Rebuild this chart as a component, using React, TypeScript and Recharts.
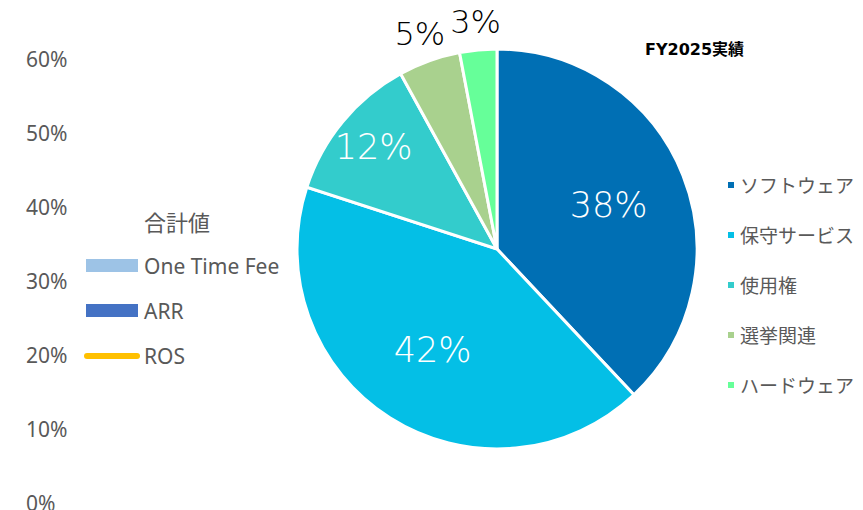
import React from 'react'
import { PieChart, Pie, Cell, Legend, ComposedChart, Bar, Line, XAxis, YAxis } from 'recharts'

// FY2025 revenue mix
const categories = ['ソフトウェア', '保守サービス', '使用権', '選挙関連', 'ハードウェア']
const shares = [38, 42, 12, 5, 3]
const sliceColors = ['#006FB4', '#04BFE6', '#33CCCC', '#A9D18E', '#66FF99']

// leftover axis / legend from the combo chart underneath (series are empty in the picture)
const periods = ['FY2025']
const oneTimeFee = [0]
const arr = [0]
const ros = [null]
const axisTicks = [0, 0.1, 0.2, 0.3, 0.4, 0.5, 0.6]
const seriesNames = ['One Time Fee', 'ARR', 'ROS']
const seriesColors = ['#9DC3E6', '#4472C4', '#FFC000']

const FONT = "'Noto Sans', 'Noto Sans CJK JP', sans-serif"
const LABEL_FONT = "'DejaVu Sans', sans-serif"
const GRAY = '#595959'

const pieData = categories.map((name, i) => ({ name, value: shares[i] }))
const comboData = periods.map((p, i) => ({
  period: p,
  oneTimeFee: oneTimeFee[i],
  arr: arr[i],
  ros: ros[i],
}))

const RAD = Math.PI / 180

const renderLabel = (props: any) => {
  const { cx, cy, midAngle, outerRadius, percent } = props
  const k = percent > 0.3 ? 0.6 : percent >= 0.1 ? 0.8 : 1.14
  const r = outerRadius * k
  const x = cx + r * Math.cos(-midAngle * RAD)
  const y = cy + r * Math.sin(-midAngle * RAD)
  const inside = percent >= 0.1
  return (
    <text
      x={x}
      y={y}
      fill={inside ? '#fff' : '#000'}
      textAnchor="middle"
      dominantBaseline="central"
      fontSize={inside ? 35 : 32}
      fontWeight={200}
      fontFamily={LABEL_FONT}
    >
      {Math.round(percent * 100)}%
    </text>
  )
}

const AxisTick = (props: any) => {
  const { y, payload } = props
  return (
    <text x={26} y={y} textAnchor="start" dominantBaseline="central" fontSize={21} fill={GRAY} fontFamily={FONT}>
      {Math.round(payload.value * 100)}%
    </text>
  )
}

const ComboLegend = () => (
  <div style={{ fontFamily: FONT, color: GRAY }}>
    <div style={{ height: 44, display: 'flex', alignItems: 'center', paddingLeft: 60, fontSize: 22 }}>合計値</div>
    {seriesNames.map((n, i) => (
      <div key={n} style={{ height: 45, display: 'flex', alignItems: 'center', fontSize: 21, whiteSpace: 'nowrap' }}>
        {i < 2 ? (
          <div style={{ width: 52, height: 13, background: seriesColors[i], marginLeft: 2, marginRight: 6 }} />
        ) : (
          <div style={{ width: 56, height: 6, borderRadius: 3, background: seriesColors[i], marginRight: 4 }} />
        )}
        <span>{n}</span>
      </div>
    ))}
  </div>
)

const PieLegend = () => (
  <div style={{ fontFamily: FONT, color: GRAY }}>
    {categories.map((c, i) => (
      <div key={c} style={{ height: 50, display: 'flex', alignItems: 'center', fontSize: 19, whiteSpace: 'nowrap' }}>
        <div style={{ width: 6, height: 6, background: sliceColors[i], marginLeft: 2, marginRight: 6 }} />
        <span>{c}</span>
      </div>
    ))}
  </div>
)

const App = () => {
  return (
    <div style={{ position: 'absolute', left: 0, top: 0, width: 863, height: 510, background: '#fff', overflow: 'hidden' }}>
      <div style={{ position: 'absolute', left: 0, top: 0 }}>
        <ComposedChart width={863} height={510} data={comboData} margin={{ top: 59, bottom: 7, left: 0, right: 0 }}>
          <XAxis dataKey="period" hide />
          <YAxis
            type="number"
            domain={[0, 0.6]}
            ticks={axisTicks}
            allowDataOverflow
            axisLine={false}
            tickLine={false}
            width={80}
            interval={0}
            tick={(p: any) => <AxisTick {...p} />}
          />
          <Bar dataKey="oneTimeFee" name={seriesNames[0]} fill={seriesColors[0]} isAnimationActive={false} />
          <Bar dataKey="arr" name={seriesNames[1]} fill={seriesColors[1]} isAnimationActive={false} />
          <Line dataKey="ros" name={seriesNames[2]} stroke={seriesColors[2]} strokeWidth={5} dot={false} isAnimationActive={false} />
          <Legend
            layout="vertical"
            align="center"
            verticalAlign="middle"
            content={<ComboLegend />}
            wrapperStyle={{ position: 'absolute', left: 84, top: 199, width: 220 }}
          />
        </ComposedChart>
      </div>
      <div style={{ position: 'absolute', left: 0, top: 0 }}>
        <PieChart width={863} height={510} margin={{ top: 0, bottom: 0, left: 0, right: 0 }}>
          <Pie
            data={pieData}
            dataKey="value"
            nameKey="name"
            cx={497}
            cy={249}
            outerRadius={200}
            startAngle={90}
            endAngle={-270}
            stroke="#fff"
            strokeWidth={3}
            label={renderLabel}
            labelLine={false}
            isAnimationActive={false}
          >
            {pieData.map((d, i) => (
              <Cell key={d.name} fill={sliceColors[i]} />
            ))}
          </Pie>
          <Legend
            layout="vertical"
            align="center"
            verticalAlign="middle"
            content={<PieLegend />}
            wrapperStyle={{ position: 'absolute', left: 726, top: 160, width: 140 }}
          />
        </PieChart>
      </div>
      <div
        style={{
          position: 'absolute',
          left: 645,
          top: 40,
          fontFamily: "'DejaVu Sans', 'Noto Sans CJK JP', sans-serif",
          fontWeight: 700,
          fontSize: 16,
          color: '#000',
          lineHeight: '20px',
        }}
      >
        FY2025実績
      </div>
    </div>
  )
}

export default App
